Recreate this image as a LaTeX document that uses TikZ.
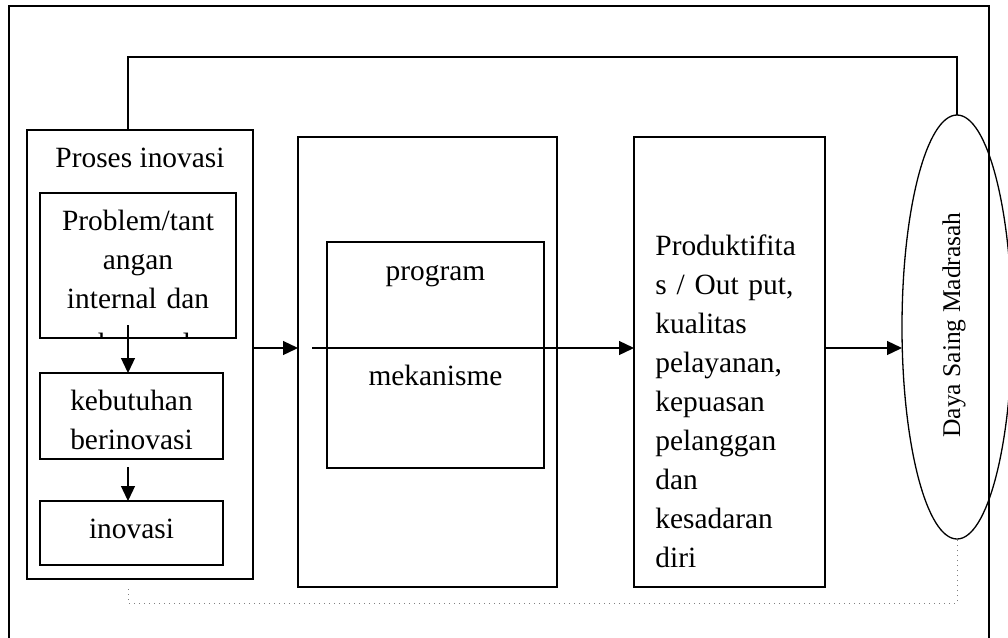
\documentclass[tikz,border=0pt]{standalone}
\usepackage{fontspec}
\setmainfont{Liberation Serif}
\usepackage{tikz}
\usetikzlibrary{arrows, arrows.meta, shapes.geometric}

\tikzset{
  box/.style={draw, line width=0.65pt, inner sep=0pt, outer sep=0pt},
  txt/.style={inner sep=0pt, font=\fontsize{14.7}{19.5}\selectfont},
  arr/.style={line width=0.65pt, -{Triangle[length=7.5pt,width=7pt]}}
}

\begin{document}
\begin{tikzpicture}[x=0.5pt, y=-0.5pt]
\useasboundingbox (0,0) rectangle (1008,638);
\clip (0,0) rectangle (1008,638);

\draw[line width=0.8pt] (9,660) -- (9,6) -- (989,6) -- (989,660); %frame

% boxes
\node[box, minimum width=113pt, minimum height=224.5pt] (leftbox) at (140,354.5) {};
\node[box, minimum width=98pt, minimum height=72.5pt] (prob) at (138,265.5) {};
\node[box, minimum width=91.5pt, minimum height=43pt] (need) at (131.5,416) {};
\node[box, minimum width=91.5pt, minimum height=32pt] (inov) at (131.5,533) {};
\node[box, minimum width=129.5pt, minimum height=225pt] (midbox) at (427.5,362) {};
\node[box, minimum width=108.5pt, minimum height=113pt] (mechbox) at (435.5,355) {};
\node[box, minimum width=95.5pt, minimum height=225pt] (outbox) at (729.5,362) {};
\node[box, ellipse, minimum width=55pt, minimum height=212pt] (goal) at (957,327) {};

% texts
\node[txt, anchor=base] (title) at (140,167) {Proses inovasi};
\node[txt, anchor=base, text width=96pt, align=center] (probtxt) at (138,230) {Problem/tant\\angan\\internal dan};
\begin{scope}
\clip (prob.south west) rectangle (prob.north east);
\node[txt, anchor=base] (probcut) at (138,353) {eksternal};
\end{scope}
\node[txt, anchor=base, text width=90pt, align=center] (needtxt) at (131.5,410) {kebutuhan\\berinovasi};
\node[txt, anchor=base] (inovtxt) at (131.5,538) {inovasi};
\node[txt, anchor=base] (progtxt) at (435.5,280) {program};
\node[txt, anchor=base] (mechtxt) at (435.5,385) {mekanisme};
\node[txt, anchor=base west, text width=86pt, align=left] (outtxt) at (655,255) {Produktifita\\s / Out put,\\kualitas\\pelayanan,\\kepuasan\\pelanggan\\dan\\kesadaran\\diri};
\node[inner sep=0pt, rotate=90, font=\fontsize{12.75}{15}\selectfont] (goaltxt) at (954,325) {Daya Saing Madrasah};

% arrows
\coordinate (a1) at (128,325);
\coordinate (a2) at (128,467);
\coordinate (m1) at (312,348);
\draw[arr] (a1) -- (a1 |- need.north);
\draw[arr] (a2) -- (a2 |- inov.north);
\draw[arr] (leftbox.east |- m1) -- (midbox.west |- m1);
\draw[arr] (m1) -- (outbox.west |- m1);
\draw[arr] (outbox.east |- m1) -- (goal.west |- m1);

% feedback lines
\coordinate (fb) at (128,57);
\draw[line width=0.65pt] (leftbox.north -| fb) -- (fb) -| (goal.north);
\coordinate (db) at (128,589);
\coordinate (dc) at (128,603);
\draw[dotted, line width=0.5pt, gray] (db) -- (dc) -| (goal.south);
\end{tikzpicture}
\end{document}
